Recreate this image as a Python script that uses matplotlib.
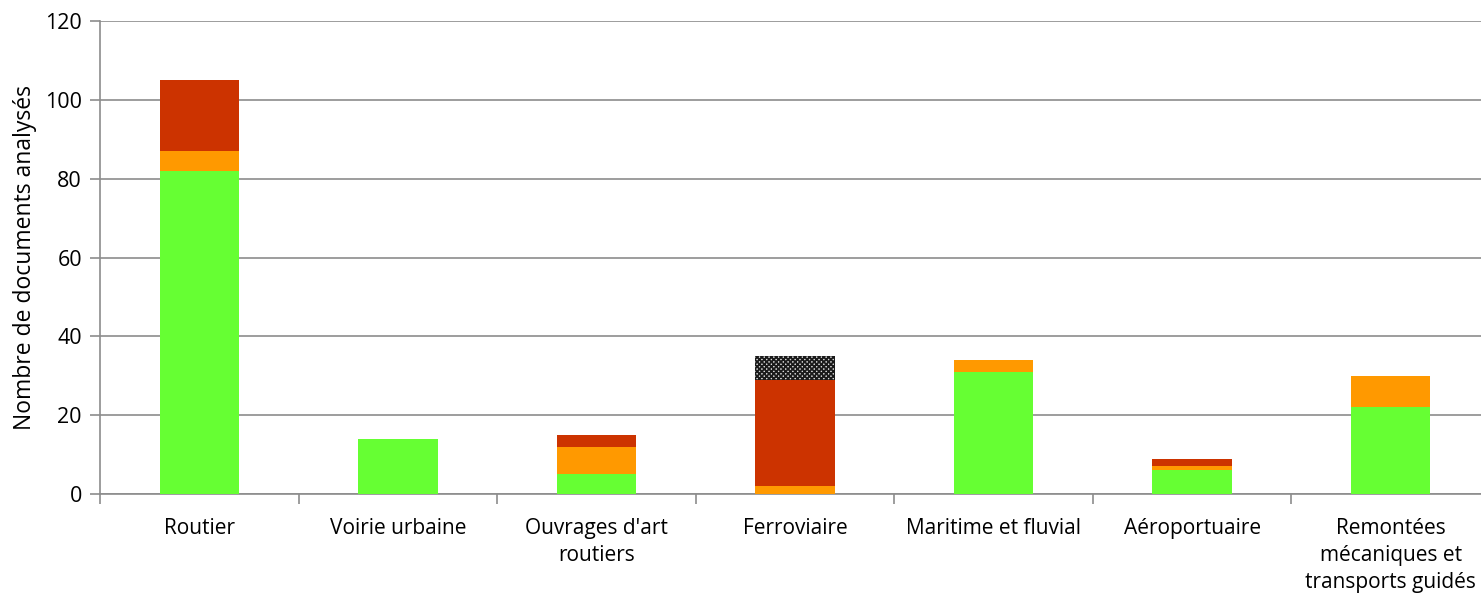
import matplotlib.pyplot as plt
import numpy as np

plt.rcParams['font.family'] = ['Open Sans', 'DejaVu Sans']

categories = ['Routier', 'Voirie urbaine', "Ouvrages d'art\nroutiers", 'Ferroviaire',
              'Maritime et fluvial', 'Aéroportuaire',
              'Remontées\nmécaniques et\ntransports guidés']
green = [82, 14, 5, 0, 31, 6, 22]
orange = [5, 0, 7, 2, 3, 1, 8]
red = [18, 0, 3, 27, 0, 2, 0]
hatched = [0, 0, 0, 6, 0, 0, 0]

fig = plt.figure(figsize=(14.81, 5.95), dpi=100)
ax = fig.add_axes([100 / 1481, 1 - 494 / 595, 1390 / 1481, 473 / 595])

x = np.arange(len(categories))
w = 0.4
bottom = np.zeros(len(categories))
for vals, col in [(green, '#66FF33'), (orange, '#FF9900'), (red, '#CC3300')]:
    ax.bar(x, vals, w, bottom=bottom, color=col, linewidth=0, zorder=3)
    bottom += np.array(vals)
plt.rcParams['hatch.linewidth'] = 1.3
ax.bar(x, hatched, w, bottom=bottom, color='#d8d8d8', edgecolor='#1a1a1a',
       hatch='xxxxxxx', linewidth=0, zorder=3)

ax.set_xlim(-0.5, len(categories) - 0.5)
ax.set_ylim(0, 120)
ax.set_yticks(range(0, 121, 20))
ax.grid(axis='y', color='#8c8c8c', linewidth=1.2, zorder=0)

ax.set_xticks(x)
ax.set_xticklabels(categories, fontsize=15, linespacing=1.4)
ax.set_xticks(np.arange(-0.5, len(categories), 1), minor=True)
ax.tick_params(axis='x', which='major', length=0, pad=17)
ax.tick_params(axis='x', which='minor', length=7, color='#8c8c8c', width=1.2)
ax.tick_params(axis='y', length=7, color='#8c8c8c', width=1.2, labelsize=15.5, pad=6)

for s in ['top', 'right']:
    ax.spines[s].set_visible(False)
for s in ['left', 'bottom']:
    ax.spines[s].set_color('#8c8c8c')
    ax.spines[s].set_linewidth(1.2)

ax.set_ylabel('Nombre de documents analysés', fontsize=16.5, labelpad=6)

fig.savefig('out.png', dpi=100)
